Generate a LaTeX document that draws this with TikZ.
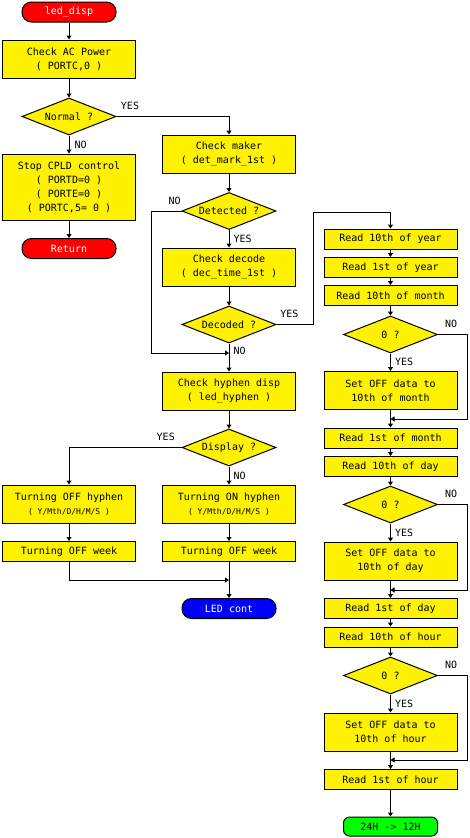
\documentclass[tikz,border=0pt]{standalone}
\usepackage{fontspec}
\setmonofont{DejaVu Sans Mono}
\usetikzlibrary{shapes.geometric,arrows.meta}

\begin{document}
\begin{tikzpicture}[x=1pt,y=-1pt,line width=1pt,
  font=\ttfamily\fontsize{10}{14}\selectfont,
  box/.style={draw,fill=yellow,minimum width=133pt,minimum height=38pt,inner sep=0pt,align=center},
  rd/.style={box,minimum height=20pt},
  dec/.style={draw,fill=yellow,diamond,aspect=2.5,minimum width=94pt,minimum height=37pt,inner sep=0pt},
  term/.style={draw,rounded corners=9.5pt,minimum width=94pt,minimum height=20pt,inner sep=0pt},
  lbl/.style={inner sep=1pt},
  flow/.style={-{Triangle[width=5pt,length=4pt]}}]

\useasboundingbox (0,0) rectangle (469,838);

% left column
\node[term,fill=red,text=white] (start) at (69,12) {led\_disp};
\node[box] (ac) at (69,59) {Check AC Power\\( PORTC,0 )};
\node[dec] (normal) at (69,116.5) {Normal ?};
\node[box,minimum height=66pt] (stop) at (69,187) {Stop CPLD control\\( PORTD=0 )\\( PORTE=0 )\\( PORTC,5= 0 )};
\node[term,fill=red,text=white] (ret) at (69,248.5) {Return};

% middle column
\node[box] (maker) at (229,154) {Check maker\\( det\_mark\_1st )};
\node[dec] (detect) at (229,211) {Detected ?};
\node[box] (decode) at (229,267) {Check decode\\( dec\_time\_1st )};
\node[dec] (decoded) at (229,324.5) {Decoded ?};
\node[box] (hyph) at (229,391) {Check hyphen disp\\( led\_hyphen )};
\node[dec] (disp) at (229,447.5) {Display ?};
\node[box] (offhy) at (69,504) {Turning OFF hyphen\\{\fontsize{8}{14}\selectfont ( Y/Mth/D/H/M/S )}};
\node[box] (onhy) at (229,504) {Turning ON hyphen\\{\fontsize{8}{14}\selectfont ( Y/Mth/D/H/M/S )}};
\node[rd] (offwk) at (69,551.5) {Turning OFF week};
\node[rd] (onwk) at (229,551.5) {Turning OFF week};
\node[term,fill=blue,text=white] (ledc) at (229,608.5) {LED cont};

% right column
\node[rd] (ry10) at (390.5,239) {Read 10th of year};
\node[rd] (ry1) at (390.5,267.5) {Read 1st of year};
\node[rd] (rm10) at (390.5,295.5) {Read 10th of month};
\node[dec] (z1) at (390.5,334.5) {0 ?};
\node[box] (setm) at (390.5,390.5) {Set OFF data to\\10th of month};
\node[rd] (rm1) at (390.5,438) {Read 1st of month};
\node[rd] (rd10) at (390.5,466.5) {Read 10th of day};
\node[dec] (z2) at (390.5,504.5) {0 ?};
\node[box] (setd) at (390.5,561) {Set OFF data to\\10th of day};
\node[rd] (rd1) at (390.5,608.5) {Read 1st of day};
\node[rd] (rh10) at (390.5,637) {Read 10th of hour};
\node[dec] (z3) at (390.5,675.5) {0 ?};
\node[box] (seth) at (390.5,732) {Set OFF data to\\10th of hour};
\node[rd] (rh1) at (390.5,779.5) {Read 1st of hour};
\node[term,fill=green,rounded corners=6pt,minimum height=19pt] (fin) at (390.5,826.5) {24H -> 12H};

\coordinate (j1) at (229,353);
\coordinate (j2) at (229,580);
\coordinate (j3) at (390.5,419);
\coordinate (j4) at (390.5,590);
\coordinate (j5) at (390.5,760);

\foreach \a/\b in {start/ac,ac/normal,stop/ret,maker/detect,decode/decoded,hyph/disp,
  offhy/offwk,onhy/onwk,onwk/ledc,ry10/ry1,ry1/rm10,rm10/z1,setm/rm1,rm1/rd10,
  rd10/z2,setd/rd1,rd1/rh10,rh10/z3,seth/rh1,rh1/fin}
  \draw[flow] (\a) -- (\b);

\draw[flow] (normal) -- node[lbl,right=4pt] {NO} (stop);
\draw[flow] (normal.east) -| node[lbl,above=5pt,pos=0.06] {YES} (maker.north);
\draw[flow] (detect) -- node[lbl,right=3pt] {YES} (decode);
\draw[flow] (detect.west) -- node[lbl,above=5pt,pos=0.23] {NO} ++(-30,0) |- (j1);
\draw[flow] (decoded) -- node[lbl,right=3pt,pos=0.28] {NO} (hyph);
\draw[flow] (decoded.east) -- node[lbl,above=5pt,pos=0.35] {YES} ++(37,0)
  -- ++(0,-112.5) -| (ry10.north);
\draw[flow] (disp.west) -| node[lbl,above=5pt,pos=0.07] {YES} (offhy.north);
\draw[flow] (disp) -- node[lbl,right=3pt] {NO} (onhy);
\draw[flow] (offwk.south) |- (j2);

\draw[flow] (z1) -- node[lbl,right=3pt] {YES} (setm);
\draw[flow] (z1.east) -- node[lbl,above=5pt,pos=0.45] {NO} ++(29,0) |- (j3);
\draw[flow] (z2) -- node[lbl,right=3pt] {YES} (setd);
\draw[flow] (z2.east) -- node[lbl,above=5pt,pos=0.45] {NO} ++(29,0) |- (j4);
\draw[flow] (z3) -- node[lbl,right=3pt] {YES} (seth);
\draw[flow] (z3.east) -- node[lbl,above=5pt,pos=0.45] {NO} ++(29,0) |- (j5);

\end{tikzpicture}
\end{document}
